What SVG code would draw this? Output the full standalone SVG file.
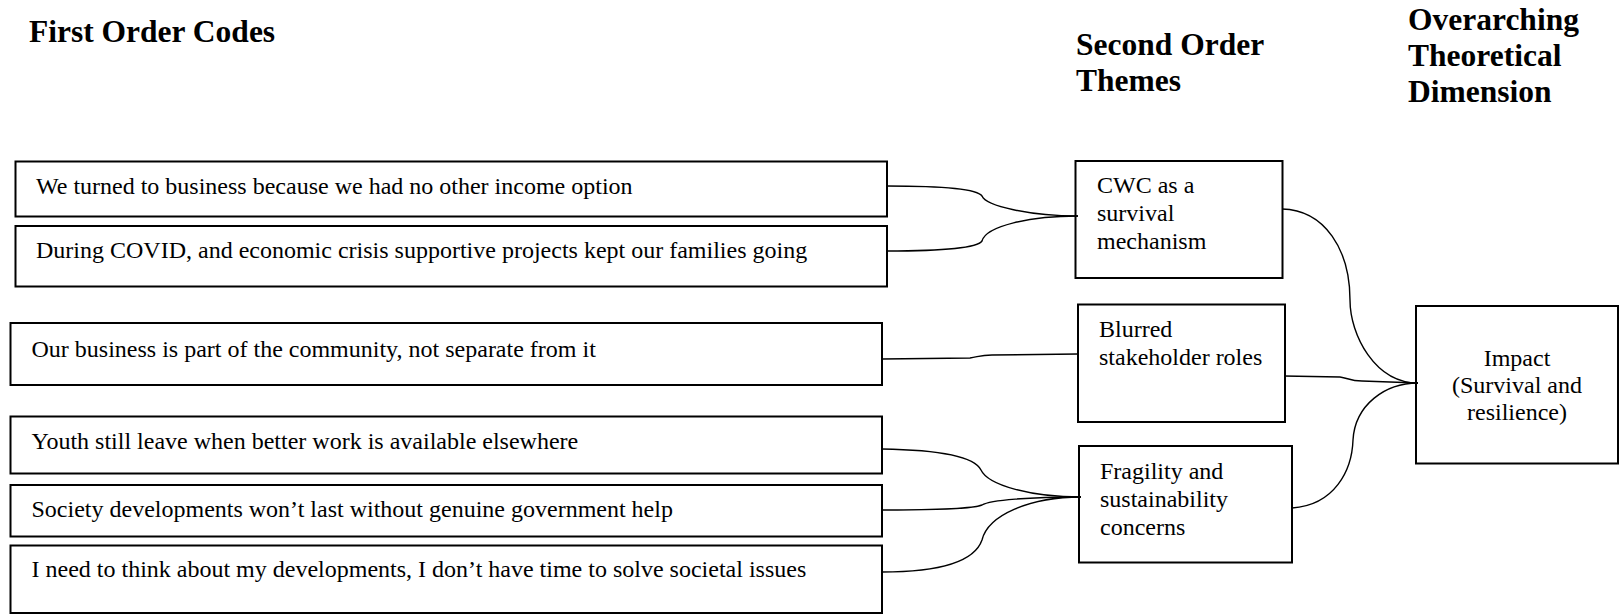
<svg xmlns="http://www.w3.org/2000/svg" width="1619" height="614" viewBox="0 0 1619 614">
  <style>
    .bg { fill: #ffffff; }
    .box { fill: #ffffff; stroke: #000000; stroke-width: 2; }
    .head { font-family: "Liberation Serif", "Times New Roman", serif; font-weight: bold; font-size: 31.5px; fill: #000000; }
    .txt { font-family: "Liberation Serif", "Times New Roman", serif; font-size: 24px; fill: #000000; }
    .link { fill: none; stroke: #000000; stroke-width: 1.4; }
  </style>
  <rect class="bg" x="0" y="0" width="1619" height="614"/>

  <!-- column headings -->
  <g id="headings">
    <text class="head" x="29" y="42">First Order Codes</text>
    <text class="head" x="1076" y="55">Second Order</text>
    <text class="head" x="1076" y="91">Themes</text>
    <text class="head" x="1408" y="30">Overarching</text>
    <text class="head" x="1408" y="66">Theoretical</text>
    <text class="head" x="1408" y="102">Dimension</text>
  </g>

  <!-- first order codes -->
  <g id="code-no-income">
    <rect class="box" x="15.5" y="161.5" width="871.5" height="55"/>
    <text class="txt" x="36" y="194">We turned to business because we had no other income option</text>
  </g>
  <g id="code-covid">
    <rect class="box" x="15.5" y="226" width="871.5" height="60.5"/>
    <text class="txt" x="36" y="258">During COVID, and economic crisis supportive projects kept our families going</text>
  </g>
  <g id="code-community">
    <rect class="box" x="10.5" y="323" width="871.5" height="62"/>
    <text class="txt" x="31.5" y="356.5">Our business is part of the community, not separate from it</text>
  </g>
  <g id="code-youth">
    <rect class="box" x="10.5" y="416.5" width="871.5" height="57"/>
    <text class="txt" x="31.5" y="449">Youth still leave when better work is available elsewhere</text>
  </g>
  <g id="code-government">
    <rect class="box" x="10.5" y="485" width="871.5" height="51.5"/>
    <text class="txt" x="31.5" y="516.5">Society developments won’t last without genuine government help</text>
  </g>
  <g id="code-own-development">
    <rect class="box" x="10.5" y="545.5" width="871.5" height="67.5"/>
    <text class="txt" x="31.5" y="576.5">I need to think about my developments, I don’t have time to solve societal issues</text>
  </g>

  <!-- second order themes -->
  <g id="theme-survival">
    <rect class="box" x="1075.5" y="161" width="207" height="117"/>
    <text class="txt" x="1097" y="193">CWC as a</text>
    <text class="txt" x="1097" y="221">survival</text>
    <text class="txt" x="1097" y="249">mechanism</text>
  </g>
  <g id="theme-stakeholder">
    <rect class="box" x="1078" y="304.5" width="207" height="117.5"/>
    <text class="txt" x="1099" y="337">Blurred</text>
    <text class="txt" x="1099" y="365">stakeholder roles</text>
  </g>
  <g id="theme-fragility">
    <rect class="box" x="1079" y="446" width="213" height="116.5"/>
    <text class="txt" x="1100" y="479">Fragility and</text>
    <text class="txt" x="1100" y="507">sustainability</text>
    <text class="txt" x="1100" y="535">concerns</text>
  </g>

  <!-- aggregate dimension -->
  <g id="dimension-impact">
    <rect class="box" x="1416" y="306" width="202" height="157.5"/>
    <text class="txt" x="1517" y="365.5" text-anchor="middle">Impact</text>
    <text class="txt" x="1517" y="392.5" text-anchor="middle">(Survival and</text>
    <text class="txt" x="1517" y="420" text-anchor="middle">resilience)</text>
  </g>

  <!-- bracket connectors -->
  <g id="connectors">
    <path class="link" d="M887,186 C950,186 978,190 982,196 C986,206 1030,216 1078,216"/>
    <path class="link" d="M887,251 C950,251 978,247 982,241 C986,226 1030,216 1078,216"/>
    <path class="link" d="M882,359 L970,358 C978,357 980,355 992,355 L1078,354"/>
    <path class="link" d="M882,449 C945,450 975,458 981,470 C988,485 1030,497 1081,497"/>
    <path class="link" d="M882,510 C950,510 975,508 982,505 C990,500 1030,497 1081,497"/>
    <path class="link" d="M882,572 C945,572 975,560 982,540 C988,515 1030,497 1081,497"/>
    <path class="link" d="M1282,209 C1325,210 1350,250 1350,300 C1350,335 1375,383 1418,383"/>
    <path class="link" d="M1284,376 L1340,377 C1348,378 1350,381 1362,381 L1418,383"/>
    <path class="link" d="M1292,508 C1335,505 1352,470 1353,440 C1355,405 1385,383 1418,383"/>
  </g>
</svg>
